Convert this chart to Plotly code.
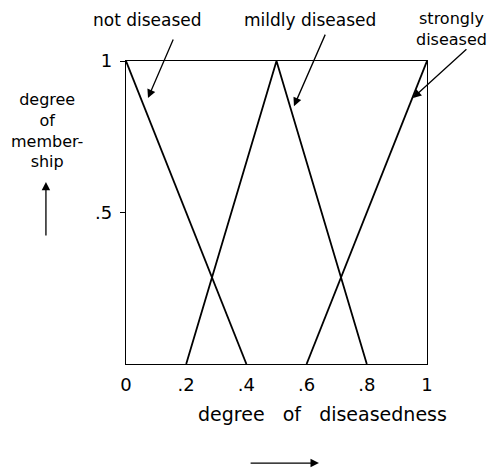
import plotly.graph_objects as go

# membership functions (degree of diseasedness -> degree of membership)
not_x = [0, 0.4]
not_y = [1, 0]
mild_x = [0.2, 0.5, 0.8]
mild_y = [0, 1, 0]
strong_x = [0.6, 1]
strong_y = [0, 1]

x_ticks = [0, 0.2, 0.4, 0.6, 0.8, 1]
x_ticktext = ["0", ".2", ".4", ".6", ".8", "1"]
y_ticks = [0.5, 1]
y_ticktext = [".5", "1"]

FONT = "DejaVu Sans"
line = dict(color="black", width=1.8)

fig = go.Figure()
fig.add_trace(go.Scatter(x=not_x, y=not_y, mode="lines", line=line, name="not diseased"))
fig.add_trace(go.Scatter(x=mild_x, y=mild_y, mode="lines", line=line, name="mildly diseased"))
fig.add_trace(go.Scatter(x=strong_x, y=strong_y, mode="lines", line=line, name="strongly diseased"))

XR, YR = "x domain", "y domain"
ann = []

def text(s, x, y, size=17):
    ann.append(dict(x=x, y=y, xref=XR, yref=YR, text=s, showarrow=False,
                    xanchor="center", yanchor="middle", align="center",
                    font=dict(family=FONT, size=size, color="black")))

def arrow(hx, hy, tx, ty):
    ann.append(dict(x=hx, y=hy, ax=tx, ay=ty, xref=XR, yref=YR, axref=XR, ayref=YR,
                    text="", showarrow=True, arrowhead=2, arrowsize=1.3,
                    arrowwidth=1.3, arrowcolor="black"))

# curve labels with pointer arrows
text("not diseased", 0.070, 1.135)
arrow(0.073, 0.878, 0.159, 1.076)
text("mildly diseased", 0.611, 1.135)
arrow(0.558, 0.851, 0.664, 1.092)
text("strongly<br>diseased", 1.080, 1.104, 16)
arrow(0.953, 0.878, 1.136, 1.043)

# y title with upward arrow
text("degree<br>of<br>member-<br>ship", -0.262, 0.769, 16)
arrow(-0.266, 0.601, -0.266, 0.419)

# x title with rightward arrow
text("degree   of   diseasedness", 0.654, -0.165, 19)
arrow(0.641, -0.327, 0.409, -0.327)

fig.update_layout(
    width=488, height=461,
    margin=dict(l=118, r=69, t=53, b=105),
    paper_bgcolor="white", plot_bgcolor="white",
    showlegend=False,
    annotations=ann,
    font=dict(family=FONT, size=18, color="black"),
)
fig.update_xaxes(range=[0, 1], showgrid=False, zeroline=False,
                 showline=True, mirror=True, linecolor="black", linewidth=1.2,
                 tickvals=x_ticks, ticktext=x_ticktext, ticks="",
                 ticklabelstandoff=4)
fig.update_yaxes(range=[0, 1], showgrid=False, zeroline=False,
                 showline=True, mirror=True, linecolor="black", linewidth=1.2,
                 tickvals=y_ticks, ticktext=y_ticktext, ticks="outside",
                 ticklen=5, tickcolor="black", ticklabelstandoff=4)

fig.write_html("out.html")
